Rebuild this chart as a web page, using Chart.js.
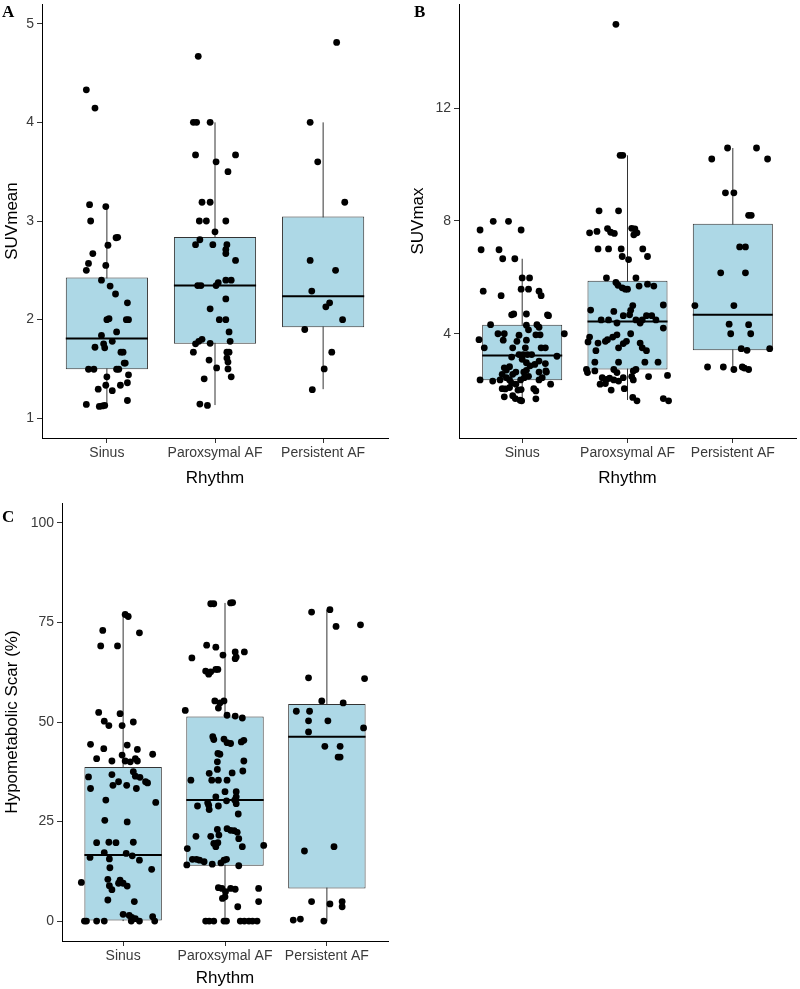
<!DOCTYPE html>
<html>
<head>
<meta charset="utf-8">
<script src="https://cdn.jsdelivr.net/npm/chart.js@4.4.0/dist/chart.umd.min.js"></script>
<style>
  body { margin: 0; background: #fff; width: 800px; height: 989px; position: relative; overflow: hidden; }
  canvas { position: absolute; }
  .tag { position: absolute; font: bold 17px "Liberation Serif", "Times New Roman", serif; line-height: 17px; color: #000; }
</style>
</head>
<body>
<canvas id="chartA" width="392" height="490" style="left:0;top:0"></canvas>
<canvas id="chartB" width="400" height="490" style="left:400px;top:0"></canvas>
<canvas id="chartC" width="392" height="499" style="left:0;top:490px"></canvas>
<div class="tag" style="left:2px;top:3px">A</div>
<div class="tag" style="left:414px;top:3px">B</div>
<div class="tag" style="left:2px;top:508px">C</div>
<script>
const groups = ['Sinus', 'Paroxsymal AF', 'Persistent AF'];

// y ticks
const aTicks = [1, 2, 3, 4, 5];
const bTicks = [4, 8, 12];
const cTicks = [0, 25, 50, 75, 100];

// box stats (Sinus, Paroxsymal AF, Persistent AF)
const aLow = [1.12, 1.134, 1.295], aQ1 = [1.497, 1.755, 1.922], aMed = [1.81, 2.345, 2.237], aQ3 = [2.426, 2.838, 3.046], aHigh = [3.147, 4.0, 4.0];
const bLow = [1.62, 1.65, 2.73], bQ1 = [2.35, 2.73, 3.41], bMed = [3.23, 4.43, 4.67], bQ3 = [4.32, 5.88, 7.9], bHigh = [6.66, 10.33, 10.59];
const cLow = [0, 0, 0], cQ1 = [0, 13.9, 8.2], cMed = [16.6, 30.4, 46.3], cQ3 = [38.7, 51.4, 54.5], cHigh = [77.4, 79.9, 78.2];

// jittered points: [jitter, value]
const aSinus = [[-0.19,4.33],[-0.11,4.145],[-0.16,3.166],[-0.01,3.146],[-0.15,3.0],[0.085,2.83],[0.1,2.835],[0.01,2.754],[-0.13,2.67],[-0.17,2.57],[-0.01,2.55],[-0.19,2.5],[-0.05,2.4],[0.03,2.34],[0.08,2.26],[0.19,2.17],[0.0,2.0],[0.02,2.01],[0.18,2.0],[0.2,2.0],[0.09,1.875],[-0.05,1.84],[0.05,1.78],[-0.03,1.755],[-0.11,1.72],[-0.02,1.714],[0.13,1.67],[0.15,1.67],[0.16,1.56],[0.17,1.56],[-0.17,1.497],[-0.12,1.497],[0.09,1.497],[0.11,1.497],[0.0,1.42],[0.2,1.44],[0.19,1.36],[-0.08,1.295],[-0.01,1.335],[0.125,1.335],[0.05,1.28],[-0.19,1.14],[0.19,1.18],[-0.07,1.12],[-0.04,1.125],[-0.02,1.13]];
const aParox = [[-0.155,4.67],[-0.2,4.0],[-0.17,4.0],[-0.045,4.0],[-0.18,3.67],[0.19,3.67],[0.01,3.6],[0.12,3.5],[-0.12,3.19],[-0.045,3.19],[-0.145,3.0],[-0.08,3.0],[0.1,3.0],[0.0,2.89],[-0.14,2.81],[-0.18,2.76],[-0.02,2.76],[0.11,2.76],[0.1,2.71],[0.1,2.67],[0.19,2.6],[0.1,2.4],[0.15,2.4],[0.03,2.375],[0.01,2.345],[-0.16,2.345],[-0.13,2.345],[0.1,2.21],[-0.045,2.11],[0.04,2.0],[0.1,2.0],[0.13,1.875],[-0.12,1.8],[-0.15,1.78],[-0.18,1.755],[-0.045,1.76],[0.14,1.78],[-0.2,1.67],[0.11,1.67],[0.13,1.67],[0.11,1.61],[0.12,1.57],[0.12,1.5],[-0.055,1.59],[0.015,1.51],[0.15,1.42],[-0.1,1.4],[-0.14,1.144],[-0.07,1.13]];
const aPersist = [[0.125,4.81],[-0.12,4.0],[-0.05,3.6],[0.2,3.19],[-0.12,2.6],[0.115,2.5],[-0.105,2.29],[0.025,2.13],[0.06,2.17],[0.18,2.0],[-0.17,1.9],[0.08,1.67],[0.01,1.5],[-0.1,1.29]];

const bSinus = [[-0.4,7.68],[-0.275,7.99],[-0.13,7.99],[-0.01,7.68],[-0.39,6.98],[-0.22,6.98],[-0.185,6.66],[-0.07,6.66],[-0.37,5.51],[-0.2,5.35],[0.0,5.98],[0.07,5.98],[-0.01,5.58],[0.06,5.58],[0.16,5.51],[0.18,5.35],[-0.1,4.67],[-0.08,4.7],[0.04,4.7],[0.24,4.67],[-0.3,4.32],[-0.41,3.79],[-0.36,3.5],[-0.23,4.0],[-0.17,4.0],[-0.18,3.77],[-0.03,3.95],[-0.05,3.73],[0.04,3.77],[0.04,4.3],[0.06,4.14],[0.14,4.32],[0.16,4.23],[0.13,3.96],[0.17,3.96],[0.03,3.5],[-0.09,3.5],[0.18,3.5],[0.22,3.5],[-0.03,3.26],[0.01,3.26],[0.05,3.26],[0.09,3.26],[-0.1,3.17],[0.0,3.09],[0.04,2.97],[0.075,2.86],[0.12,2.91],[0.16,3.03],[0.22,2.94],[-0.17,2.79],[-0.15,2.71],[-0.19,2.56],[-0.12,2.83],[-0.09,2.56],[-0.06,2.64],[0.04,2.7],[0.015,2.64],[0.16,2.64],[0.23,2.64],[-0.015,2.36],[0.02,2.44],[0.06,2.49],[-0.4,2.36],[-0.28,2.32],[-0.21,2.36],[-0.15,2.44],[-0.12,2.36],[-0.1,2.25],[0.16,2.36],[0.19,2.44],[-0.19,2.05],[-0.16,2.04],[-0.12,2.09],[-0.06,2.21],[-0.04,2.0],[-0.01,2.02],[0.11,2.05],[0.13,1.97],[-0.17,1.76],[-0.09,1.8],[-0.065,1.7],[-0.02,1.64],[-0.005,1.62],[0.13,1.69],[0.25,4.64],[0.4,4.0],[0.33,3.2],[0.225,2.68],[0.27,2.21]];
const bParox = [[-0.11,14.98],[-0.07,10.33],[-0.045,10.33],[-0.27,8.36],[-0.085,8.36],[-0.36,7.58],[-0.29,7.63],[-0.19,7.73],[-0.16,7.6],[-0.125,7.56],[0.04,7.74],[0.07,7.72],[0.09,7.58],[0.06,7.51],[-0.28,7.01],[-0.18,7.01],[-0.06,7.01],[-0.05,6.74],[0.01,6.63],[0.145,7.01],[0.19,6.74],[-0.2,5.98],[0.08,5.98],[-0.11,5.82],[-0.09,5.72],[-0.05,5.63],[-0.02,5.58],[0.0,5.58],[0.11,5.69],[0.19,5.76],[0.25,5.69],[-0.35,4.84],[-0.13,4.79],[-0.04,4.64],[0.02,4.67],[0.05,5.0],[0.03,4.83],[0.18,4.64],[0.23,4.64],[0.27,4.49],[0.34,5.02],[-0.25,4.49],[-0.18,4.49],[-0.1,4.38],[0.08,4.49],[0.14,4.49],[0.12,4.38],[-0.1,3.96],[-0.14,3.88],[-0.19,3.79],[-0.21,3.73],[-0.28,3.67],[-0.375,3.71],[-0.36,3.88],[0.03,4.0],[-0.01,3.73],[-0.04,3.65],[-0.085,3.5],[0.12,3.67],[0.14,3.5],[0.18,3.4],[-0.3,3.4],[-0.31,2.99],[-0.085,2.99],[0.165,2.99],[0.29,2.99],[-0.39,2.73],[-0.31,2.68],[-0.38,2.62],[-0.13,2.73],[-0.1,2.62],[-0.24,2.44],[-0.2,2.38],[-0.17,2.42],[-0.13,2.36],[-0.085,2.32],[-0.04,2.44],[0.055,2.68],[0.08,2.73],[0.04,2.48],[0.055,2.36],[0.2,2.48],[-0.26,2.21],[-0.21,2.23],[-0.155,2.0],[-0.03,2.05],[0.05,1.74],[0.09,1.62],[0.34,1.7],[0.34,4.2],[0.38,2.52],[0.39,1.62]];
const bPersist = [[-0.05,10.59],[0.225,10.59],[-0.2,10.2],[0.33,10.2],[-0.07,9.0],[0.01,9.0],[0.15,8.2],[0.175,8.2],[0.065,7.08],[0.12,7.08],[-0.115,6.16],[0.12,6.16],[-0.36,5.0],[0.01,5.0],[-0.035,4.34],[0.15,4.32],[-0.02,4.0],[0.17,4.0],[0.08,3.47],[0.135,3.41],[0.35,3.47],[-0.24,2.82],[-0.09,2.82],[0.01,2.73],[0.09,2.82],[0.11,2.78],[0.15,2.73]];

const cSinus = [[0.02,77.0],[0.05,76.5],[-0.2,73.0],[0.16,72.4],[-0.22,69.1],[-0.055,69.1],[-0.24,52.4],[-0.03,52.1],[-0.185,50.2],[-0.14,49.1],[-0.01,49.1],[0.1,50.0],[-0.32,44.4],[-0.19,43.3],[0.04,44.2],[0.14,43.1],[-0.26,40.8],[-0.11,40.2],[-0.01,41.7],[0.02,40.2],[0.07,40.0],[0.12,40.8],[0.14,40.2],[0.29,41.9],[-0.34,36.2],[-0.11,36.8],[0.1,37.5],[0.12,36.4],[0.165,36.1],[0.22,35.0],[-0.32,33.3],[-0.1,34.1],[-0.045,35.0],[0.035,34.1],[0.13,33.3],[0.24,34.7],[0.32,29.8],[-0.17,30.4],[-0.18,25.3],[0.04,24.9],[-0.26,19.7],[-0.14,19.8],[-0.07,19.7],[0.1,19.8],[-0.185,17.2],[0.03,17.0],[0.09,16.4],[0.16,15.3],[-0.325,16.0],[-0.135,15.6],[0.28,13.0],[-0.13,13.4],[-0.41,9.7],[-0.15,10.5],[-0.03,10.3],[0.0,9.5],[0.04,8.8],[-0.135,8.9],[-0.11,7.9],[-0.045,9.5],[-0.15,5.3],[0.11,4.9],[0.0,1.7],[0.06,1.4],[0.085,0.9],[0.12,0.6],[0.29,1.1],[-0.38,0],[-0.36,0],[-0.26,0],[-0.185,0],[0.08,0],[0.16,0],[0.31,0]];
const cParox = [[-0.14,79.7],[-0.11,79.7],[0.055,79.9],[0.075,80.0],[-0.18,69.3],[-0.09,68.8],[-0.325,66.1],[-0.02,66.8],[0.1,67.6],[0.19,67.6],[0.1,65.9],[0.11,66.3],[-0.19,62.8],[-0.16,62.0],[-0.14,62.6],[-0.09,63.2],[-0.07,63.2],[-0.1,55.3],[-0.05,54.8],[-0.01,55.3],[-0.065,53.5],[-0.39,52.9],[0.02,51.7],[0.1,51.5],[0.17,51.0],[-0.12,46.3],[-0.11,45.6],[-0.01,45.7],[0.02,44.8],[0.055,44.6],[0.16,45.0],[0.185,45.4],[-0.07,42.1],[-0.05,41.9],[-0.075,40.0],[0.185,40.2],[-0.075,38.1],[-0.155,37.1],[-0.13,35.4],[-0.065,35.4],[0.02,35.4],[0.07,37.2],[0.175,37.7],[-0.335,35.4],[0.0,32.5],[0.11,32.5],[-0.09,31.2],[0.11,31.2],[-0.17,29.7],[0.095,30.4],[0.11,29.5],[-0.27,28.9],[-0.16,29.1],[-0.065,28.9],[0.015,30.2],[-0.155,28.0],[0.13,26.9],[-0.285,21.3],[-0.075,23.0],[0.02,23.2],[0.055,22.8],[0.09,22.7],[0.12,22.3],[0.135,20.7],[-0.14,21.3],[-0.06,21.6],[-0.11,19.5],[-0.09,18.7],[-0.07,19.7],[0.17,18.7],[0.38,19.0],[-0.37,18.2],[-0.32,15.5],[-0.28,15.5],[-0.25,15.3],[-0.205,14.9],[-0.125,14.3],[-0.04,14.6],[-0.01,15.3],[0.015,15.5],[-0.375,14.1],[0.135,13.9],[-0.065,8.4],[-0.03,8.2],[0.005,7.4],[0.055,8.2],[0.1,8.0],[0.33,8.2],[-0.025,5.7],[0.0,6.1],[0.125,3.6],[0.33,4.9],[-0.19,0],[-0.155,0],[-0.11,0],[-0.01,0],[0.015,0],[0.15,0],[0.19,0],[0.235,0],[0.27,0],[0.315,0]];
const cPersist = [[-0.15,77.6],[0.03,78.2],[0.09,74.0],[0.33,74.4],[-0.18,61.1],[0.37,60.9],[-0.05,55.3],[0.16,54.8],[-0.3,52.7],[-0.17,52.7],[-0.18,50.3],[0.01,50.3],[-0.18,47.5],[0.36,48.5],[-0.02,43.9],[0.13,43.9],[0.11,41.2],[0.13,41.2],[-0.22,17.6],[0.07,18.7],[-0.15,4.9],[0.03,4.3],[0.15,4.9],[0.15,3.6],[-0.33,0.25],[-0.26,0.5],[-0.03,0]];

const FONT = '"Liberation Sans", Arial, sans-serif';
const HALF_BOX = 0.38;

function boxChart(id, cfg) {
  let datasets = [];
  groups.forEach((g, i) => {
    datasets.push({
      type: 'line', order: 3, data: [{x: i, y: cfg.low[i]}, {x: i, y: cfg.high[i]}],
      borderColor: '#333', borderWidth: 1, pointRadius: 0
    });
    datasets.push({
      type: 'line', order: 1, data: [{x: i - HALF_BOX, y: cfg.med[i]}, {x: i + HALF_BOX, y: cfg.med[i]}],
      borderColor: '#000', borderWidth: 2, pointRadius: 0
    });
    datasets.push({
      type: 'scatter', order: 0, clip: false,
      data: cfg.points[i].map(p => ({x: i + p[0], y: p[1]})),
      backgroundColor: '#000', borderWidth: 0, pointRadius: 3.4
    });
  });
  datasets.push({
    type: 'bar', order: 2,
    data: groups.map((g, i) => ({x: i, y: [cfg.q1[i], cfg.q3[i]]})),
    backgroundColor: '#ADD8E6', borderColor: '#333', borderWidth: 1, borderSkipped: false,
    barPercentage: 2 * HALF_BOX, categoryPercentage: 1
  });

  new Chart(document.getElementById(id), {
    type: 'bar',
    data: { datasets: datasets },
    options: {
      responsive: false,
      animation: false,
      devicePixelRatio: 1,
      layout: { padding: { top: cfg.padTop, left: 0, right: 0, bottom: 0 } },
      plugins: { legend: { display: false }, tooltip: { enabled: false } },
      scales: {
        x: {
          type: 'linear', min: -0.6, max: 2.6, offset: false,
          afterBuildTicks: s => { s.ticks = groups.map((g, i) => ({value: i})); },
          afterFit: s => { s.height = cfg.xAxisH; s.paddingLeft = 0; s.paddingRight = 0; },
          border: { color: '#000', width: 1 },
          grid: { drawOnChartArea: false, offset: false, tickLength: 5, color: '#333' },
          ticks: { callback: v => groups[v], color: '#3a3a3a', font: { family: FONT, size: 14 }, padding: 2, maxRotation: 0, autoSkip: false },
          title: { display: true, text: 'Rhythm', color: '#000', font: { family: FONT, size: 17 }, padding: { top: 0, bottom: cfg.xTitlePad } }
        },
        y: {
          type: 'linear', min: cfg.yMin, max: cfg.yMax, beginAtZero: false,
          afterBuildTicks: s => { s.ticks = cfg.ticks.map(v => ({value: v})); },
          afterFit: s => { s.width = cfg.yAxisW; s.paddingTop = 0; s.paddingBottom = 0; },
          border: { color: '#000', width: 1 },
          grid: { drawOnChartArea: false, tickLength: 5, color: '#333' },
          ticks: { color: '#3a3a3a', font: { family: FONT, size: 14 }, padding: 3 },
          title: { display: true, text: cfg.yTitle, color: '#000', font: { family: FONT, size: 17 }, padding: { top: cfg.yTitlePad, bottom: 0 } }
        }
      }
    }
  });
}

boxChart('chartA', {
  low: aLow, q1: aQ1, med: aMed, q3: aQ3, high: aHigh,
  points: [aSinus, aParox, aPersist], ticks: aTicks,
  yMin: 0.8, yMax: 5.2, yTitle: 'SUVmean',
  padTop: 0, xAxisH: 52, yAxisW: 42, yTitlePad: 2, xTitlePad: 1
});
boxChart('chartB', {
  low: bLow, q1: bQ1, med: bMed, q3: bQ3, high: bHigh,
  points: [bSinus, bParox, bPersist], ticks: bTicks,
  yMin: 0.3, yMax: 15.7, yTitle: 'SUVmax',
  padTop: 0, xAxisH: 52, yAxisW: 59, yTitlePad: 8, xTitlePad: 1
});
boxChart('chartC', {
  low: cLow, q1: cQ1, med: cMed, q3: cQ3, high: cHigh,
  points: [cSinus, cParox, cPersist], ticks: cTicks,
  yMin: -5, yMax: 105, yTitle: 'Hypometabolic Scar (%)',
  padTop: 13, xAxisH: 48, yAxisW: 62, yTitlePad: 2.5, xTitlePad: 0.5
});
</script>
</body>
</html>
